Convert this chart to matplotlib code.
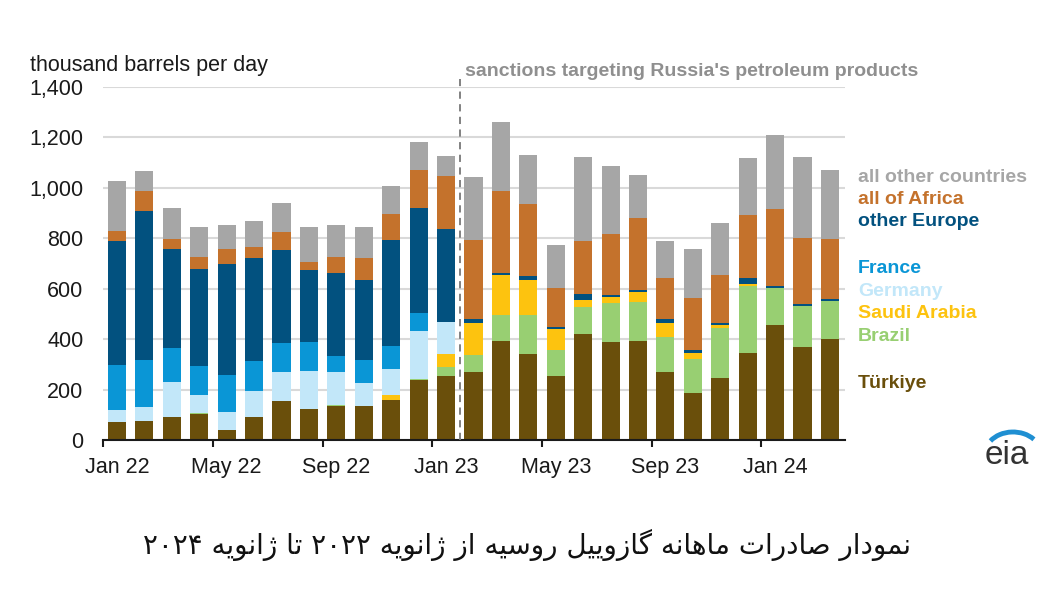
import matplotlib
matplotlib.use("Agg")
import matplotlib.pyplot as plt
import numpy as np
from matplotlib.patches import Arc

months = ["Jan 22", "Feb 22", "Mar 22", "Apr 22", "May 22", "Jun 22", "Jul 22", "Aug 22", "Sep 22",
          "Oct 22", "Nov 22", "Dec 22", "Jan 23", "Feb 23", "Mar 23", "Apr 23", "May 23", "Jun 23",
          "Jul 23", "Aug 23", "Sep 23", "Oct 23", "Nov 23", "Dec 23", "Jan 24", "Feb 24", "Mar 24"]

turkiye = [73, 76, 92, 105, 39, 91, 155, 124, 135, 135, 159, 236, 252, 269, 391, 342, 254, 420,
           389, 393, 268, 188, 245, 347, 456, 367, 400]
brazil = [0, 0, 0, 3, 0, 0, 0, 0, 4, 0, 0, 4, 39, 69, 104, 152, 104, 106,
          153, 153, 141, 133, 201, 262, 147, 164, 150]
saudi = [0, 0, 0, 0, 0, 0, 0, 0, 0, 0, 18, 0, 51, 128, 161, 139, 82, 29,
         24, 39, 56, 25, 11, 10, 0, 0, 0]
germany = [47, 54, 138, 69, 71, 104, 113, 148, 129, 91, 105, 192, 126, 0, 0, 0, 0, 0,
           0, 0, 0, 0, 0, 0, 0, 0, 0]
france = [176, 187, 135, 115, 149, 118, 115, 116, 67, 91, 90, 71, 0, 0, 0, 0, 0, 0,
          0, 0, 0, 0, 0, 0, 0, 0, 0]
other_europe = [494, 590, 393, 385, 438, 410, 371, 285, 329, 316, 421, 419, 370, 13, 6, 16, 10, 26,
                10, 11, 14, 10, 8, 22, 9, 8, 9]
africa = [40, 80, 40, 47, 60, 43, 70, 31, 60, 88, 103, 148, 211, 316, 326, 286, 151, 210,
          241, 283, 162, 207, 191, 253, 303, 262, 238]
other = [199, 78, 121, 119, 96, 103, 116, 142, 129, 125, 113, 113, 78, 249, 272, 197, 172, 331,
         268, 173, 150, 195, 204, 224, 293, 321, 274]

series = [("Türkiye", turkiye, "#6a4f0b"),
          ("Brazil", brazil, "#98cf72"),
          ("Saudi Arabia", saudi, "#fdc30f"),
          ("Germany", germany, "#c2e7f9"),
          ("France", france, "#0a96d6"),
          ("other Europe", other_europe, "#02517f"),
          ("all of Africa", africa, "#c4722c"),
          ("all other countries", other, "#a6a6a6")]

caption = "نمودار صادرات ماهانه گازوییل روسیه از ژانویه ۲۰۲۲ تا ژانویه ۲۰۲۴"

# simple Persian shaping (matplotlib does not shape Arabic script)
forms = {
    "ا": ("\uFE8D", "\uFE8E", None, None),
    "د": ("\uFEA9", "\uFEAA", None, None),
    "ر": ("\uFEAD", "\uFEAE", None, None),
    "ز": ("\uFEAF", "\uFEB0", None, None),
    "ژ": ("\uFB8A", "\uFB8B", None, None),
    "و": ("\uFEED", "\uFEEE", None, None),
    "ن": ("\uFEE5", "\uFEE6", "\uFEE7", "\uFEE8"),
    "م": ("\uFEE1", "\uFEE2", "\uFEE3", "\uFEE4"),
    "ص": ("\uFEB9", "\uFEBA", "\uFEBB", "\uFEBC"),
    "ت": ("\uFE95", "\uFE96", "\uFE97", "\uFE98"),
    "ه": ("\uFEE9", "\uFEEA", "\uFEEB", "\uFEEC"),
    "گ": ("\uFB92", "\uFB93", "\uFB94", "\uFB95"),
    "ی": ("\uFBFC", "\uFBFD", "\uFBFE", "\uFBFF"),
    "ل": ("\uFEDD", "\uFEDE", "\uFEDF", "\uFEE0"),
    "س": ("\uFEB1", "\uFEB2", "\uFEB3", "\uFEB4"),
}


def shape_word(w):
    out = []
    for i, c in enumerate(w):
        if c not in forms:
            out.append(c)
            continue
        prev = w[i - 1] if i > 0 else None
        nxt = w[i + 1] if i < len(w) - 1 else None
        join_prev = prev in forms and forms[prev][2] is not None
        join_next = nxt in forms and forms[c][2] is not None
        f = forms[c]
        if join_prev and join_next:
            out.append(f[3])
        elif join_prev:
            out.append(f[1])
        elif join_next:
            out.append(f[2])
        else:
            out.append(f[0])
    return "".join(out)


def visual(text):
    words = text.split(" ")
    res = []
    for w in reversed(words):
        if all(ch in "۰۱۲۳۴۵۶۷۸۹" for ch in w):
            res.append(w)
        else:
            res.append(shape_word(w)[::-1])
    return " ".join(res)


W, H = 1057, 601
fig = plt.figure(figsize=(W / 100, H / 100), dpi=100)
plt.rcParams['font.family'] = ['Liberation Sans', 'DejaVu Sans']

ax = fig.add_axes([103 / W, 1 - 440 / H, (845 - 103) / W, (440 - 87) / H])
x = np.arange(len(months))
bottom = np.zeros(len(months))
for name, vals, col in series:
    ax.bar(x, vals, width=0.66, bottom=bottom, color=col, zorder=3)
    bottom += np.array(vals)

ax.set_xlim(-0.51, 26.55)
ax.set_ylim(0, 1400)
ax.set_yticks(range(0, 1401, 200))
ax.set_yticklabels([f"{v:,}" for v in range(0, 1401, 200)], fontsize=15.5, color="#1a1a1a")
ax.tick_params(axis="y", length=0, pad=14)
ax.grid(axis="y", color="#d9d9d9", linewidth=1.5, zorder=0)
for s in ["top", "right", "left"]:
    ax.spines[s].set_visible(False)
ax.spines["bottom"].set_color("#1a1a1a")
ax.spines["bottom"].set_linewidth(1.5)
ax.spines["bottom"].set_zorder(4)

ax.set_xticks(np.arange(-0.5, 26, 4))
ax.set_xticklabels([])
ax.tick_params(axis="x", which="major", length=5, width=1.5, color="#1a1a1a")
ax.set_xticks(np.arange(0, 27, 4), minor=True)
ax.set_xticklabels(months[::4], minor=True, fontsize=15.5, color="#1a1a1a")
ax.tick_params(axis="x", which="minor", length=0, pad=12)

ax.axvline(12.5, ymin=0, ymax=1430 / 1400, color="#777777", linestyle=(0, (4, 3)),
           linewidth=1.3, clip_on=False, zorder=5)
ax.text(12.68, 1462, "sanctions targeting Russia's petroleum products", fontsize=14,
        fontweight="bold", color="#8f8f8f", va="center", ha="left")

fig.text(30 / W, 1 - 65 / H, "thousand barrels per day", fontsize=15.5, color="#1a1a1a",
         va="center", ha="left")

leg_y = {"all other countries": 177, "all of Africa": 200, "other Europe": 222, "France": 268,
         "Germany": 291, "Saudi Arabia": 314, "Brazil": 337, "Türkiye": 383}
for name, vals, col in series:
    fig.text(858 / W, 1 - leg_y[name] / H, name, fontsize=14, fontweight="bold", color=col,
             va="center", ha="left")

# eia logo
fig.text(1007 / W, 1 - 455 / H, "eia", fontsize=24, color="#333333", ha="center", va="center")
lax = fig.add_axes([975 / W, 1 - 470 / H, 70 / W, 50 / H])
lax.set_xlim(0, 70)
lax.set_ylim(0, 50)
lax.axis("off")
lax.add_patch(Arc((38, 16), 56, 44, theta1=35, theta2=150, color="#1f8fd2", linewidth=3.5))

fig.text(527 / W, 1 - 545 / H, visual(caption), fontsize=20, color="#111111",
         ha="center", va="center", family=["DejaVu Sans"])

fig.savefig("out.png", dpi=100, facecolor="white")
